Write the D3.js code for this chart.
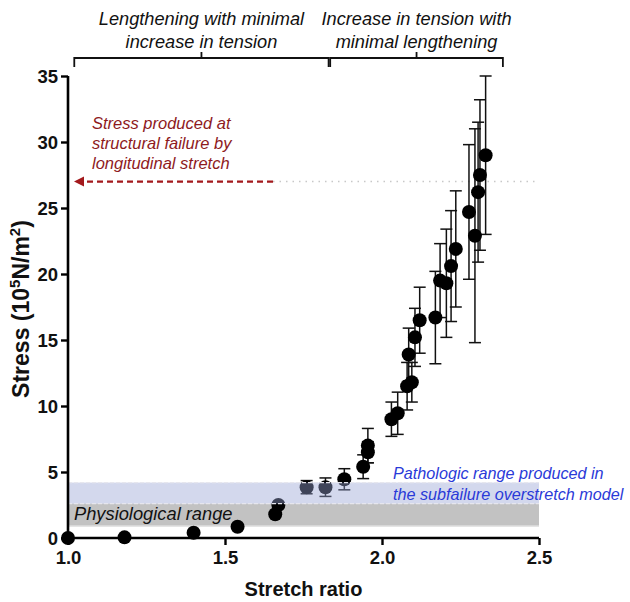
<!DOCTYPE html>
<html>
<head>
<meta charset="utf-8">
<script src="https://cdn.jsdelivr.net/npm/d3@7"></script>
<style>
  body { margin: 0; background: #fff; }
  text { font-family: "Liberation Sans", Arial, sans-serif; }
</style>
</head>
<body>
<script>
// stretch ratio, stress (10^5 N/m^2) and error (SD)
var stretch = [1.00, 1.18, 1.40, 1.54, 1.66, 1.67, 1.76, 1.82, 1.88, 1.94, 1.955, 1.955,
               2.03, 2.05, 2.08, 2.095, 2.085, 2.105, 2.12, 2.17, 2.185, 2.205, 2.22, 2.235,
               2.277, 2.296, 2.306, 2.312, 2.33];
var stress  = [0.0, 0.05, 0.4, 0.85, 1.8, 2.5, 3.85, 3.85, 4.45, 5.4, 6.5, 7.0,
               9.0, 9.45, 11.5, 11.8, 13.9, 15.2, 16.5, 16.7, 19.5, 19.3, 20.6, 21.9,
               24.7, 22.9, 26.2, 27.5, 29.0];
var errs    = [0, 0, 0, 0, 0, 0, 0.5, 0.7, 0.8, 0.9, 0.8, 1.3,
               1.3, 1.6, 1.8, 1.5, 2.0, 2.2, 2.5, 3.5, 2.8, 4.1, 4.2, 4.4,
               5.1, 8.1, 5.3, 5.7, 6.0];

var xTicks = [1.0, 1.5, 2.0, 2.5];
var yTicks = [0, 5, 10, 15, 20, 25, 30, 35];

var failureStress = 27;
var physioRange = [0.9, 2.6];
var pathoRange = [2.6, 4.2];
var phases = [[1.02, 1.83], [1.835, 2.385]];
var phaseText = [["Lengthening with minimal", "increase in tension"],
                 ["Increase in tension with", "minimal lengthening"]];

var w = 630, h = 602;
var pLeft = 68, pRight = 539, pTop = 76, pBottom = 538;

var svg = d3.select("body").append("svg")
    .attr("width", w)
    .attr("height", h);

var x = d3.scaleLinear().domain([1.0, 2.5]).range([pLeft, pRight]);
var y = d3.scaleLinear().domain([0, 35]).range([pBottom, pTop]);

var points = stretch.map(function (d, i) {
    return {x: d, y: stress[i], e: errs[i]};
});

// physiological band (behind points)
svg.append("rect")
    .attr("x", x(1.0))
    .attr("y", y(physioRange[1]))
    .attr("width", x(2.5) - x(1.0))
    .attr("height", y(physioRange[0]) - y(physioRange[1]))
    .attr("fill", "#c2c2c2");
svg.append("line")
    .attr("x1", x(1.0)).attr("x2", x(2.5))
    .attr("y1", y(physioRange[0])).attr("y2", y(physioRange[0]))
    .attr("stroke", "#dedede").attr("stroke-width", 1.5);

// failure level line
svg.append("line")
    .attr("x1", 273).attr("x2", x(2.495))
    .attr("y1", y(failureStress)).attr("y2", y(failureStress))
    .attr("stroke", "#c8c8c8")
    .attr("stroke-width", 1.5)
    .attr("stroke-dasharray", "1.5,5");

// error bars
var eb = svg.append("g")
    .attr("stroke", "#111")
    .attr("stroke-width", 1.5)
    .selectAll("g")
    .data(points.filter(function (d) { return d.e > 0; }))
    .enter().append("g");
eb.append("line")
    .attr("x1", function (d) { return x(d.x); })
    .attr("x2", function (d) { return x(d.x); })
    .attr("y1", function (d) { return y(d.y + d.e); })
    .attr("y2", function (d) { return y(d.y - d.e); });
eb.append("line")
    .attr("x1", function (d) { return x(d.x) - 6; })
    .attr("x2", function (d) { return x(d.x) + 6; })
    .attr("y1", function (d) { return y(d.y + d.e); })
    .attr("y2", function (d) { return y(d.y + d.e); });
eb.append("line")
    .attr("x1", function (d) { return x(d.x) - 6; })
    .attr("x2", function (d) { return x(d.x) + 6; })
    .attr("y1", function (d) { return y(d.y - d.e); })
    .attr("y2", function (d) { return y(d.y - d.e); });

// points
svg.append("g")
    .selectAll("circle")
    .data(points)
    .enter().append("circle")
    .attr("cx", function (d) { return x(d.x); })
    .attr("cy", function (d) { return y(d.y); })
    .attr("r", 7)
    .attr("fill", "#000");

// pathologic band (over points, translucent)
svg.append("rect")
    .attr("x", x(1.0))
    .attr("y", y(pathoRange[1]))
    .attr("width", x(2.5) - x(1.0))
    .attr("height", y(pathoRange[0]) - y(pathoRange[1]))
    .attr("fill", "rgb(150,162,212)")
    .attr("fill-opacity", 0.42);
svg.selectAll(".bandEdge")
    .data([pathoRange[1], pathoRange[0]])
    .enter().append("line")
    .attr("x1", x(1.0)).attr("x2", x(2.5))
    .attr("y1", function (d) { return y(d); })
    .attr("y2", function (d) { return y(d); })
    .attr("stroke", "#e6e6ee")
    .attr("stroke-width", 1.2)
    .attr("stroke-dasharray", "4,2");

// axes
var xAxis = svg.append("g")
    .attr("transform", "translate(0," + pBottom + ")")
    .call(d3.axisBottom(x).tickValues(xTicks).tickFormat(d3.format(".1f")).tickSize(7).tickPadding(6));
var yAxis = svg.append("g")
    .attr("transform", "translate(" + pLeft + ",0)")
    .call(d3.axisLeft(y).tickValues(yTicks).tickSize(7).tickPadding(3));

[xAxis, yAxis].forEach(function (a) {
    a.select(".domain").attr("stroke", "#000").attr("stroke-width", 2.6);
    a.selectAll(".tick line").attr("stroke", "#000").attr("stroke-width", 2.4);
    a.selectAll(".tick text")
        .attr("fill", "#111")
        .attr("font-size", 18.5)
        .attr("font-weight", "bold")
        .attr("font-family", "'Liberation Sans', Arial, sans-serif");
});
xAxis.select(".domain").attr("d", "M" + pLeft + ",0H" + pRight);
yAxis.select(".domain").attr("d", "M0," + pTop + "V" + pBottom);
yAxis.selectAll(".tick text").attr("dy", "0.36em");

// axis titles
svg.append("text")
    .attr("x", (pLeft + pRight) / 2)
    .attr("y", 596)
    .attr("text-anchor", "middle")
    .attr("font-size", 20)
    .attr("font-weight", "bold")
    .attr("fill", "#111")
    .text("Stretch ratio");

var yt = svg.append("text")
    .attr("transform", "translate(29,309) rotate(-90)")
    .attr("text-anchor", "middle")
    .attr("font-size", 23)
    .attr("font-weight", "bold")
    .attr("fill", "#111");
yt.append("tspan").text("Stress (10");
yt.append("tspan").attr("font-size", 15).attr("dy", -9).text("5");
yt.append("tspan").attr("dy", 9).text("N/m");
yt.append("tspan").attr("font-size", 15).attr("dy", -9).text("2");
yt.append("tspan").attr("dy", 9).text(")");

// phase brackets
var br = svg.append("g").attr("stroke", "#111").attr("stroke-width", 1.8).attr("fill", "none");
phases.forEach(function (p, i) {
    var x0 = x(p[0]), x1 = x(p[1]), xm = (x0 + x1) / 2;
    br.append("path").attr("d", "M" + x0 + ",67V58H" + x1 + "V67");
    br.append("line").attr("x1", xm).attr("x2", xm).attr("y1", 52).attr("y2", 58);
    var t = svg.append("text")
        .attr("x", xm)
        .attr("text-anchor", "middle")
        .attr("font-size", 18.2)
        .attr("font-style", "italic")
        .attr("fill", "#111");
    phaseText[i].forEach(function (s, j) {
        t.append("tspan").attr("x", xm).attr("y", 25 + j * 23).text(s);
    });
});

// failure annotation
svg.append("line")
    .attr("x1", 273).attr("x2", 82)
    .attr("y1", y(failureStress)).attr("y2", y(failureStress))
    .attr("stroke", "#a3191c")
    .attr("stroke-width", 2.2)
    .attr("stroke-dasharray", "6,4");
svg.append("path")
    .attr("d", "M74," + y(failureStress) + "l10,-5v10z")
    .attr("fill", "#a3191c");
var ft = svg.append("text")
    .attr("font-size", 16.5)
    .attr("font-style", "italic")
    .attr("fill", "#8e1a1d");
["Stress produced at", "structural failure by", "longitudinal stretch"].forEach(function (s, j) {
    ft.append("tspan").attr("x", 92).attr("y", 129 + j * 20).text(s);
});

// band labels
var pt = svg.append("text")
    .attr("font-size", 16.2)
    .attr("font-style", "italic")
    .attr("fill", "#2a3ad8");
["Pathologic range produced in", "the subfailure overstretch model"].forEach(function (s, j) {
    pt.append("tspan").attr("x", 393).attr("y", 479 + j * 21).text(s);
});

svg.append("text")
    .attr("x", 74)
    .attr("y", 520)
    .attr("font-size", 18.3)
    .attr("font-style", "italic")
    .attr("fill", "#111")
    .text("Physiological range");
</script>
</body>
</html>
